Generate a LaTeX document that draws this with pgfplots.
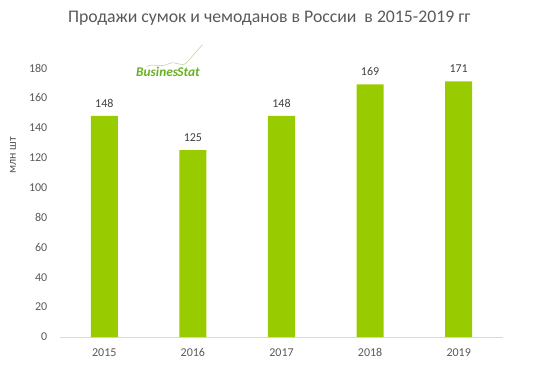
\documentclass[border=0pt]{standalone}
\usepackage{fontspec}
\setmainfont{Carlito}
\usepackage{pgfplots}
\pgfplotsset{compat=1.18}
\definecolor{bargreen}{HTML}{99CC00}
\definecolor{txtgrey}{HTML}{595959}
\definecolor{lblgrey}{HTML}{404040}
\definecolor{axgrey}{HTML}{D9D9D9}
\definecolor{logogreen}{HTML}{6AAF23}
\begin{document}
\begin{tikzpicture}[x=1pt,y=1pt]
\useasboundingbox (0,0) rectangle (417,286.5);
\begin{axis}[
  at={(45pt,33.75pt)}, anchor=south west,
  scale only axis, width=332.25pt, height=201.75pt,
  xmin=-0.5, xmax=4.5, ymin=0, ymax=180,
  ybar, bar width=0.305,
  xtick=data, xticklabels={2015,2016,2017,2018,2019},
  ytick={0,20,...,180},
  axis y line=none,
  axis x line*=bottom,
  x axis line style={draw=axgrey, line width=0.75pt, -},
  major tick length=0pt,
  tick label style={font=\fontsize{9}{10}\selectfont, text=txtgrey},
  /pgf/number format/assume math mode=true,
  xticklabel style={yshift=-5pt},
  clip=false,
  nodes near coords,
  every node near coord/.append style={font=\fontsize{9}{10}\selectfont, text=lblgrey, yshift=3pt},
]
\addplot[fill=bargreen, draw=none] coordinates {(0,148) (1,125) (2,148) (3,169) (4,171)};
\end{axis}
\begin{axis}[
  at={(45pt,33.75pt)}, anchor=south west,
  scale only axis, width=332.25pt, height=201.75pt,
  xmin=-0.5, xmax=4.5, ymin=0, ymax=180,
  ytick={0,20,...,180}, xtick=\empty,
  axis x line=none,
  axis y line*=left,
  y axis line style={draw=none},
  major tick length=0pt,
  tick label style={font=\fontsize{9}{10}\selectfont, text=txtgrey},
  /pgf/number format/assume math mode=true,
  yticklabel style={xshift=-6pt},
]
\end{axis}
\node[font=\fontsize{13.3}{15}\selectfont, text=txtgrey] at (202,273) {Продажи сумок и чемоданов в России \ в 2015-2019 гг};
\node[font=\fontsize{9}{10}\selectfont, text=txtgrey, rotate=90] at (9.75,170) {млн шт};
\node[font=\fontsize{10}{12}\selectfont\bfseries\itshape, text=logogreen, anchor=base] at (126,229) {Busines\kern-0.5ptStat};
\draw[logogreen!50, line width=0.4pt] (110,236.5) .. controls (115,239.5) and (120,235.5) .. (126,238.5) .. controls (132,241.5) and (136,235.5) .. (140,239.5) .. controls (145,245) and (148,249) .. (152,253);
\end{tikzpicture}
\end{document}
